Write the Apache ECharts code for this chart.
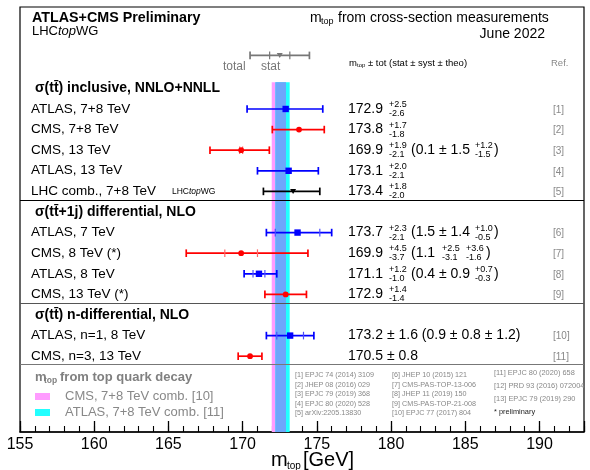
<!DOCTYPE html>
<html>
<head>
<meta charset="utf-8">
<script src="https://cdn.jsdelivr.net/npm/echarts@6/dist/echarts.min.js"></script>
<style>
html, body { margin: 0; padding: 0; background: #fff; }
#chart { width: 590px; height: 470px; }
</style>
</head>
<body>
<div id="chart"></div>
<script>
var FONT = '"Liberation Sans", Arial, Helvetica, sans-serif';

// measurements, top to bottom (slot = row position, headers sit on 0, 6, 11)
var labels = ['ATLAS, 7+8 TeV', 'CMS, 7+8 TeV', 'CMS, 13 TeV', 'ATLAS, 13 TeV', 'LHC comb., 7+8 TeV',
	'ATLAS, 7 TeV', 'CMS, 8 TeV (*)', 'ATLAS, 8 TeV', 'CMS, 13 TeV (*)',
	'ATLAS, n=1, 8 TeV', 'CMS, n=3, 13 TeV'];
var slots = [1, 2, 3, 4, 5, 7, 8, 9, 10, 12, 13];
var experiment = ['ATLAS', 'CMS', 'CMS', 'ATLAS', 'LHC', 'ATLAS', 'CMS', 'ATLAS', 'CMS', 'ATLAS', 'CMS'];
var central = [172.9, 173.8, 169.9, 173.1, 173.4, 173.7, 169.9, 171.1, 172.9, 173.2, 170.5];
var errUp = [2.5, 1.7, 1.9, 2.0, 1.8, 2.3, 4.5, 1.2, 1.4, 1.6, 0.8];
var errDown = [2.6, 1.8, 2.1, 2.1, 2.0, 2.1, 3.7, 1.0, 1.4, 1.6, 0.8];
var stat = [null, null, 0.1, null, null, 1.5, 1.1, 0.4, null, 0.9, null];
var systUp = [null, null, 1.5, null, null, 1.4, 2.5, 0.9, null, 0.8, null];
var systDown = [null, null, 1.5, null, null, 1.4, 3.1, 0.9, null, 0.8, null];
var theoUp = [null, null, 1.2, null, null, 1.0, 3.6, 0.7, null, 1.2, null];
var theoDown = [null, null, 1.5, null, null, 0.5, 1.6, 0.3, null, 1.2, null];
var pmFormat = [0, 0, 0, 0, 0, 0, 0, 0, 0, 1, 1];
var refs = ['[1]', '[2]', '[3]', '[4]', '[5]', '[6]', '[7]', '[8]', '[9]', '[10]', '[11]'];

var groupTitles = ['σ(tt\u0304) inclusive, NNLO+NNLL', 'σ(tt\u0304+1j) differential, NLO', 'σ(tt\u0304) n-differential, NLO'];
var groupSlots = [0, 6, 11];
var separatorSlots = [5.4, 10.4, 13.4];
var separatorColors = ['#000', '#555', '#777'];

// combinations from top quark decay (bands)
var combNames = ['CMS, 7+8 TeV comb. [10]', 'ATLAS, 7+8 TeV comb. [11]'];
var combCentral = [172.44, 172.69];
var combErr = [0.48, 0.48];

// "total / stat" key
var keyCentral = 172.5, keyTotal = 2.0, keyStat = 0.68, keySlot = -1.6;

var refCol1 = ['[1] EPJC 74 (2014) 3109', '[2] JHEP 08 (2016) 029', '[3] EPJC 79 (2019) 368', '[4] EPJC 80 (2020) 528', '[5] arXiv:2205.13830'];
var refCol2 = ['[6] JHEP 10 (2015) 121', '[7] CMS-PAS-TOP-13-006', '[8] JHEP 11 (2019) 150', '[9] CMS-PAS-TOP-21-008', '[10] EPJC 77 (2017) 804'];
var refCol3 = ['[11] EPJC 80 (2020) 658', '[12] PRD 93 (2016) 072004', '[13] EPJC 79 (2019) 290', '* preliminary'];

var colors = { ATLAS: '#0000ff', CMS: '#ff0000', LHC: '#000000' };
var statColors = { ATLAS: '#4d4dff', CMS: '#ff6666', LHC: '#444444' };
var bandColors = ['#ff9cff', '#22ffff', '#6ea6fb'];

function txt(s, x, y, size, opt) {
	opt = opt || {};
	return {
		type: 'text',
		style: {
			text: s, x: x, y: y,
			font: (opt.style || '') + ' ' + (opt.weight || 'normal') + ' ' + size + 'px ' + FONT,
			fill: opt.color || '#000',
			align: opt.align || 'left',
			verticalAlign: 'middle'
		}
	};
}

function supSub(up, down, x, y, list) {
	list.push(txt('+' + up.toFixed(1), x, y - 4.5, 9));
	list.push(txt('-' + down.toFixed(1), x, y + 4.5, 9));
}

function barShapes(api, c, lo, hi, sLo, sHi, slot, color, sColor, marker) {
	var p = api.coord([c, slot]);
	var a = api.coord([lo, slot]);
	var b = api.coord([hi, slot]);
	var y = p[1];
	var lw = 1.7, h = 3.8;
	var out = [
		{ type: 'line', shape: { x1: a[0], y1: y, x2: b[0], y2: y }, style: { stroke: color, lineWidth: lw } },
		{ type: 'line', shape: { x1: a[0], y1: y - h, x2: a[0], y2: y + h }, style: { stroke: color, lineWidth: lw } },
		{ type: 'line', shape: { x1: b[0], y1: y - h, x2: b[0], y2: y + h }, style: { stroke: color, lineWidth: lw } }
	];
	if (sLo != null) {
		var sa = api.coord([sLo, slot]), sb = api.coord([sHi, slot]);
		out.push({ type: 'line', shape: { x1: sa[0], y1: y - h, x2: sa[0], y2: y + h }, style: { stroke: sColor, lineWidth: 1.2 } });
		out.push({ type: 'line', shape: { x1: sb[0], y1: y - h, x2: sb[0], y2: y + h }, style: { stroke: sColor, lineWidth: 1.2 } });
	}
	if (marker === 'square') {
		out.push({ type: 'rect', shape: { x: p[0] - 3.2, y: y - 3.2, width: 6.4, height: 6.4 }, style: { fill: color } });
	} else if (marker === 'circle') {
		out.push({ type: 'circle', shape: { cx: p[0], cy: y, r: 2.9 }, style: { fill: color } });
	} else {
		out.push({ type: 'polygon', shape: { points: [[p[0] - 3, y - 2.5], [p[0] + 3, y - 2.5], [p[0], y + 2.5]] }, style: { fill: color } });
	}
	return out;
}

function renderBands(params, api) {
	var cs = params.coordSys;
	var yTop = api.coord([155, -0.3])[1];
	var yBot = cs.y + cs.height;
	var lo0 = combCentral[0] - combErr[0], hi0 = combCentral[0] + combErr[0];
	var lo1 = combCentral[1] - combErr[1], hi1 = combCentral[1] + combErr[1];
	var ranges = [[lo0, hi0], [lo1, hi1], [Math.max(lo0, lo1), Math.min(hi0, hi1)]];
	var ch = ranges.map(function (r, k) {
		var a = api.coord([r[0], 0])[0], b = api.coord([r[1], 0])[0];
		return { type: 'rect', shape: { x: a, y: yTop, width: b - a, height: yBot - yTop }, style: { fill: bandColors[k] } };
	});
	return { type: 'group', children: ch };
}

function renderFrame(params, api) {
	var cs = params.coordSys;
	var ch = [];
	separatorSlots.forEach(function (s, k) {
		var y = Math.round(api.coord([155, s])[1]) + 0.5;
		ch.push({ type: 'line', shape: { x1: cs.x, y1: y, x2: cs.x + cs.width, y2: y }, style: { stroke: separatorColors[k], lineWidth: 1.2 } });
	});
	groupTitles.forEach(function (t, k) {
		var y = api.coord([155, groupSlots[k]])[1];
		ch.push(txt(t, 35, y, 14, { weight: 'bold' }));
	});
	// total / stat key
	barShapes(api, keyCentral, keyCentral - keyTotal, keyCentral + keyTotal,
		keyCentral - keyStat, keyCentral + keyStat, keySlot, '#777', '#777', 'triangle').forEach(function (el) { ch.push(el); });
	return { type: 'group', children: ch };
}

function renderBar(params, api) {
	var i = params.dataIndex;
	var ex = experiment[i];
	var marker = ex === 'ATLAS' ? 'square' : (ex === 'CMS' ? 'circle' : 'triangle');
	var sLo = stat[i] != null ? central[i] - stat[i] : null;
	var sHi = stat[i] != null ? central[i] + stat[i] : null;
	return { type: 'group', children: barShapes(api, central[i], central[i] - errDown[i], central[i] + errUp[i], sLo, sHi, slots[i], colors[ex], statColors[ex], marker) };
}

function renderRow(params, api) {
	var i = params.dataIndex;
	var y = api.coord([155, slots[i]])[1];
	var ch = [];
	ch.push(txt(labels[i], 31, y, 13.5));
	if (experiment[i] === 'LHC') {
		ch.push({ type: 'text', style: { text: '{n|LHC}{i|top}{n|WG}', x: 172, y: y, verticalAlign: 'middle',
			rich: { n: { fontSize: 8.5, fontFamily: FONT }, i: { fontSize: 8.5, fontFamily: FONT, fontStyle: 'italic' } } } });
	}
	if (pmFormat[i]) {
		var s = central[i].toFixed(1) + ' ± ' + errUp[i].toFixed(1);
		if (stat[i] != null) {
			s += ' (' + stat[i].toFixed(1) + ' ± ' + systUp[i].toFixed(1) + ' ± ' + theoUp[i].toFixed(1) + ')';
		}
		ch.push(txt(s, 348, y, 14));
	} else {
		ch.push(txt(central[i].toFixed(1), 348, y, 14));
		supSub(errUp[i], errDown[i], 389, y, ch);
		if (stat[i] != null) {
			if (systUp[i] === systDown[i]) {
				ch.push(txt('(' + stat[i].toFixed(1) + ' ± ' + systUp[i].toFixed(1), 411, y, 14));
				supSub(theoUp[i], theoDown[i], 475, y, ch);
				ch.push(txt(')', 494, y, 14));
			} else {
				ch.push(txt('(' + stat[i].toFixed(1), 411, y, 14));
				supSub(systUp[i], systDown[i], 442, y, ch);
				supSub(theoUp[i], theoDown[i], 466, y, ch);
				ch.push(txt(')', 486, y, 14));
			}
		}
	}
	ch.push(txt(refs[i], 553, y + 1, 10, { color: '#888' }));
	return { type: 'group', children: ch };
}

var rowData = central.map(function (v, i) { return [v, slots[i]]; });

var graphics = [
	txt('ATLAS+CMS Preliminary', 32, 18, 14.3, { weight: 'bold' }),
	{ type: 'text', style: { text: '{n|LHC}{i|top}{n|WG}', x: 32, y: 31, verticalAlign: 'middle',
		rich: { n: { fontSize: 13, fontFamily: FONT }, i: { fontSize: 13, fontFamily: FONT, fontStyle: 'italic' } } } },
	txt('m', 310, 18, 14),
	txt('top', 321, 22, 9),
	txt('from cross-section measurements', 338, 18, 14),
	txt('June 2022', 545, 34, 14, { align: 'right' }),
	txt('m', 349, 63, 9.5),
	txt('top', 357, 65, 6),
	txt('± tot (stat ± syst ± theo)', 368, 63, 9.5),
	txt('Ref.', 551, 63, 9.5, { color: '#888' }),
	txt('total', 223, 67, 12, { color: '#777' }),
	txt('stat', 261, 67, 12, { color: '#777' }),
	txt('m', 35, 377, 13, { weight: 'bold', color: '#808080' }),
	txt('top', 44, 381, 8.5, { weight: 'bold', color: '#808080' }),
	txt('from top quark decay', 60, 377, 13, { weight: 'bold', color: '#808080' }),
	{ type: 'rect', shape: { x: 35, y: 393, width: 15, height: 7 }, style: { fill: bandColors[0] } },
	{ type: 'rect', shape: { x: 35, y: 409, width: 15, height: 7 }, style: { fill: bandColors[1] } },
	txt(combNames[0], 65, 396, 13, { color: '#888' }),
	txt(combNames[1], 65, 412, 13, { color: '#888' }),
	txt('m', 271, 460, 20),
	txt('top', 287, 466, 10),
	txt('[GeV]', 303, 460, 20)
];
var refY12 = [375, 385, 394, 404, 413];
var refY3 = [373, 386, 399, 412];
refCol1.forEach(function (s, k) { graphics.push(txt(s, 295, refY12[k], 7.2, { color: '#888' })); });
refCol2.forEach(function (s, k) { graphics.push(txt(s, 392, refY12[k], 7.2, { color: '#888' })); });
refCol3.forEach(function (s, k) { graphics.push(txt(s, 494, refY3[k], 7.4, { color: k === 3 ? '#222' : '#888' })); });

var chart = echarts.init(document.getElementById('chart'), null, { renderer: 'canvas' });
chart.setOption({
	animation: false,
	backgroundColor: '#fff',
	grid: { left: 20, right: 6, top: 7, bottom: 38, show: true, borderColor: '#000', borderWidth: 1.2, backgroundColor: 'transparent' },
	xAxis: [{
		type: 'value', min: 155, max: 193, interval: 5, position: 'bottom',
		axisLine: { show: true, onZero: false, lineStyle: { color: '#000', width: 1.5 } },
		axisTick: { show: true, inside: true, length: 11, lineStyle: { color: '#000', width: 1.3 } },
		axisLabel: { fontSize: 16, fontFamily: FONT, color: '#000', margin: 5,
			formatter: function (v) { return v % 5 === 0 ? String(v) : ''; } },
		splitLine: { show: false }
	}, {
		type: 'value', min: 155, max: 193, interval: 1, position: 'bottom',
		axisLine: { show: false, onZero: false },
		axisTick: { show: true, inside: true, length: 6, lineStyle: { color: '#000', width: 1.1 } },
		axisLabel: { show: false },
		splitLine: { show: false }
	}],
	yAxis: { type: 'value', inverse: true, min: -3.95, max: 16.68, show: false },
	graphic: graphics,
	series: [
		{ type: 'custom', name: 'bands', renderItem: renderBands, data: [[172.5, 0]], z: 1, silent: true },
		{ type: 'custom', name: 'frame', renderItem: renderFrame, data: [[155, 0]], z: 2, silent: true },
		{ type: 'custom', name: 'bars', renderItem: renderBar, data: rowData, z: 3 },
		{ type: 'custom', name: 'rows', renderItem: renderRow, data: rowData, z: 4 }
	]
});
</script>
</body>
</html>
